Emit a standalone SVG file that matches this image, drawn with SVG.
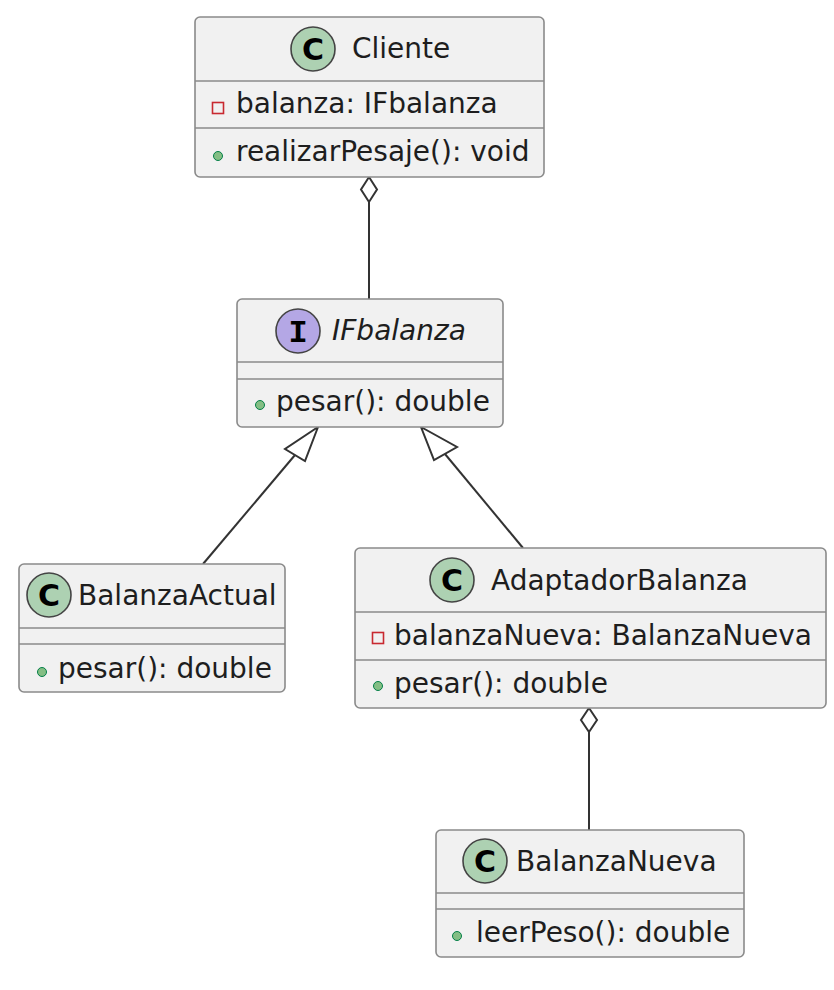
<svg xmlns="http://www.w3.org/2000/svg" width="834" height="990" viewBox="0 0 834 990">
<style>
.box{fill:#F1F1F1;stroke:#8a8a8a;stroke-width:1.6}
.sep{stroke:#8a8a8a;stroke-width:1.6}
.t{font-family:"DejaVu Sans",sans-serif;font-size:28px;fill:#1e1e1e}
.it{font-style:italic}
.cc{fill:#ADD1B2;stroke:#444;stroke-width:1.6}
.ic{fill:#B4A7E5;stroke:#444;stroke-width:1.6}
.cl{font-family:"DejaVu Sans",sans-serif;font-weight:bold;font-size:30px;fill:#000;text-anchor:middle}
.il{font-family:"Liberation Mono","DejaVu Sans Mono",monospace;font-weight:bold;font-size:32px;fill:#000;text-anchor:middle}
.pub{fill:#84BE84;stroke:#038048;stroke-width:1}
.priv{fill:none;stroke:#C82930;stroke-width:1.6}
.ln{stroke:#333;stroke-width:2;fill:none}
.hd{fill:#fff;stroke:#333;stroke-width:2}
</style>
<g id="connectors">
<line class="ln" x1="369" y1="202" x2="369" y2="299"/>
<polygon class="hd" points="369,177 377,189.5 369,202 361,189.5"/>
<line class="ln" x1="295" y1="455" x2="203" y2="564"/>
<polygon class="hd" points="318,427 305,461 285,449"/>
<line class="ln" x1="445" y1="454" x2="523" y2="548"/>
<polygon class="hd" points="421,427 457,447 434,460"/>
<line class="ln" x1="589" y1="732" x2="589" y2="830"/>
<polygon class="hd" points="589,708 597,720 589,732 581,720"/>
</g>
<g id="Cliente">
<rect class="box" x="195" y="17" width="349" height="160" rx="5"/>
<line class="sep" x1="195" y1="81" x2="544" y2="81"/>
<line class="sep" x1="195" y1="128" x2="544" y2="128"/>
<circle class="cc" cx="313" cy="49" r="22"/>
<text class="cl" x="313" y="60">C</text>
<text class="t" x="352" y="58">Cliente</text>
<rect class="priv" x="212.5" y="102.5" width="11" height="11"/>
<text class="t" x="236" y="113">balanza: IFbalanza</text>
<circle class="pub" cx="218" cy="156" r="4.5"/>
<text class="t" x="236" y="161">realizarPesaje(): void</text>
</g>
<g id="IFbalanza">
<rect class="box" x="237" y="299" width="266" height="128" rx="5"/>
<line class="sep" x1="237" y1="362" x2="503" y2="362"/>
<line class="sep" x1="237" y1="379" x2="503" y2="379"/>
<circle class="ic" cx="298" cy="331" r="22"/>
<text class="il" x="298" y="342">I</text>
<text class="t it" x="332" y="340">IFbalanza</text>
<circle class="pub" cx="260" cy="405" r="4.5"/>
<text class="t" x="276" y="411">pesar(): double</text>
</g>
<g id="BalanzaActual">
<rect class="box" x="19" y="564" width="266" height="128" rx="5"/>
<line class="sep" x1="19" y1="628" x2="285" y2="628"/>
<line class="sep" x1="19" y1="644" x2="285" y2="644"/>
<circle class="cc" cx="49" cy="595" r="22"/>
<text class="cl" x="49" y="606">C</text>
<text class="t" x="78" y="605">BalanzaActual</text>
<circle class="pub" cx="42" cy="672" r="4.5"/>
<text class="t" x="58" y="678">pesar(): double</text>
</g>
<g id="AdaptadorBalanza">
<rect class="box" x="355" y="548" width="471" height="160" rx="5"/>
<line class="sep" x1="355" y1="612" x2="826" y2="612"/>
<line class="sep" x1="355" y1="660" x2="826" y2="660"/>
<circle class="cc" cx="452" cy="580" r="22"/>
<text class="cl" x="452" y="591">C</text>
<text class="t" x="491" y="590">AdaptadorBalanza</text>
<rect class="priv" x="372.5" y="632.5" width="11" height="11"/>
<text class="t" x="394" y="645">balanzaNueva: BalanzaNueva</text>
<circle class="pub" cx="378" cy="686" r="4.5"/>
<text class="t" x="394" y="693">pesar(): double</text>
</g>
<g id="BalanzaNueva">
<rect class="box" x="436" y="830" width="308" height="127" rx="5"/>
<line class="sep" x1="436" y1="893" x2="744" y2="893"/>
<line class="sep" x1="436" y1="909" x2="744" y2="909"/>
<circle class="cc" cx="485" cy="861" r="22"/>
<text class="cl" x="485" y="872">C</text>
<text class="t" x="516" y="871">BalanzaNueva</text>
<circle class="pub" cx="457" cy="936" r="4.5"/>
<text class="t" x="476" y="942">leerPeso(): double</text>
</g>
</svg>
